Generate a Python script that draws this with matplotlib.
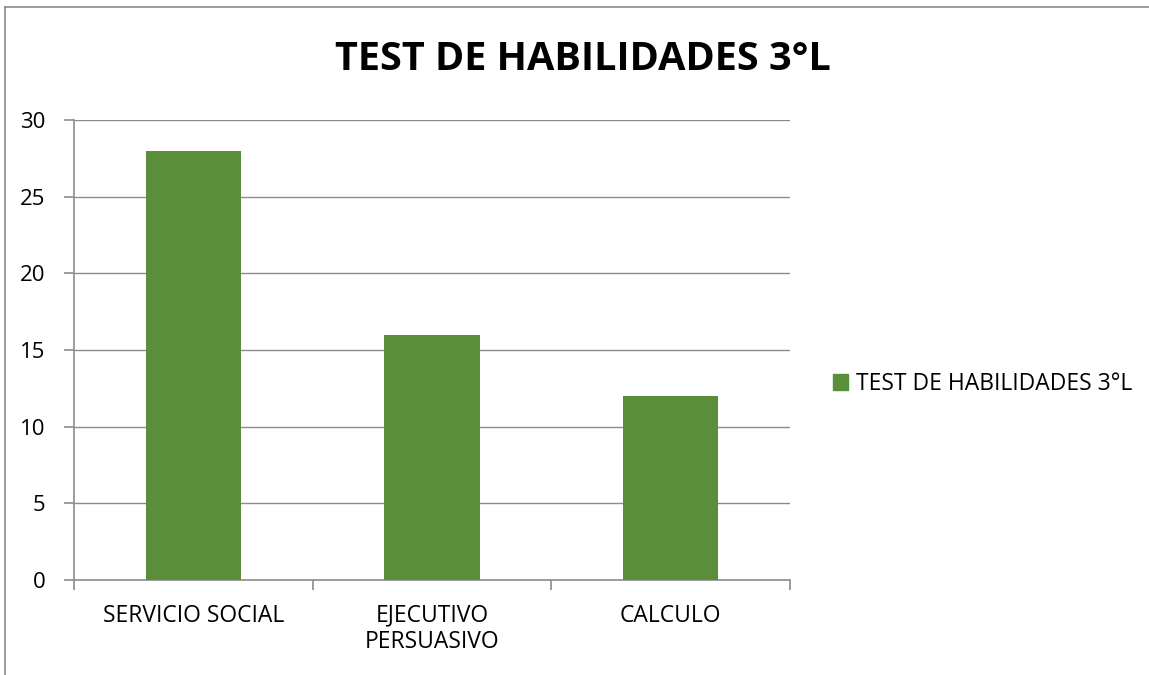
import matplotlib
matplotlib.use("Agg")
import matplotlib.pyplot as plt
from matplotlib.patches import Rectangle
from matplotlib.lines import Line2D

categories = ["SERVICIO SOCIAL", "EJECUTIVO\nPERSUASIVO", "CALCULO"]
values = [28, 16, 12]
series_name = "TEST DE HABILIDADES 3°L"
title = "TEST DE HABILIDADES 3°L"
yticks = [0, 5, 10, 15, 20, 25, 30]

bar_color = "#5B8E3A"
grid_color = "#8C8C8C"
font = ["Open Sans", "DejaVu Sans"]

W, H = 1149, 675
fig = plt.figure(figsize=(W / 100, H / 100), dpi=100)
fig.patch.set_facecolor("white")

# chart frame (left and top edges)
fig.add_artist(Line2D([5 / W, 5 / W], [0, 1 - 6.5 / H], color="#8A8A8A", lw=1.2,
                      transform=fig.transFigure))
fig.add_artist(Line2D([5 / W, 1], [1 - 6.5 / H, 1 - 6.5 / H], color="#8A8A8A", lw=1.2,
                      transform=fig.transFigure))

ax = fig.add_axes([74 / W, 1 - 580 / H, (790 - 74) / W, (580 - 120) / H])
x = list(range(len(categories)))
ax.bar(x, values, width=0.4, color=bar_color, zorder=3, label=series_name)

ax.set_xlim(-0.5, len(categories) - 0.5)
ax.set_ylim(0, 30)
ax.set_yticks(yticks)
ax.set_yticklabels([str(v) for v in yticks], fontfamily=font, fontsize=16)
ax.yaxis.grid(True, color=grid_color, lw=1.0, zorder=0)
ax.set_axisbelow(True)

ax.set_xticks(x)
ax.set_xticklabels(categories, fontfamily=font, fontsize=16.5, linespacing=1.15)
ax.tick_params(axis="x", length=0, pad=17)
# category boundary tick marks
ax.set_xticks([i - 0.5 for i in range(len(categories) + 1)], minor=True)
ax.tick_params(axis="x", which="minor", length=7, color=grid_color, width=1.2)
ax.tick_params(axis="y", length=7, color=grid_color, width=1.2, pad=13.5)

for s in ["top", "right"]:
    ax.spines[s].set_visible(False)
for s in ["left", "bottom"]:
    ax.spines[s].set_color(grid_color)
    ax.spines[s].set_linewidth(1.2)

fig.text(583 / W, 1 - 59 / H, title, ha="center", va="center",
         fontfamily=font, fontweight="bold", fontsize=28.5)

handles = [Rectangle((0, 0), 1, 1, color=bar_color)]
fig.legend(handles, [series_name], loc="center left",
           bbox_to_anchor=(812 / W, 1 - 384 / H), frameon=False,
           prop={"family": font, "size": 16.5}, handlelength=0.65,
           handleheight=0.65, handletextpad=0.35)

fig.savefig("out.png", dpi=100)
